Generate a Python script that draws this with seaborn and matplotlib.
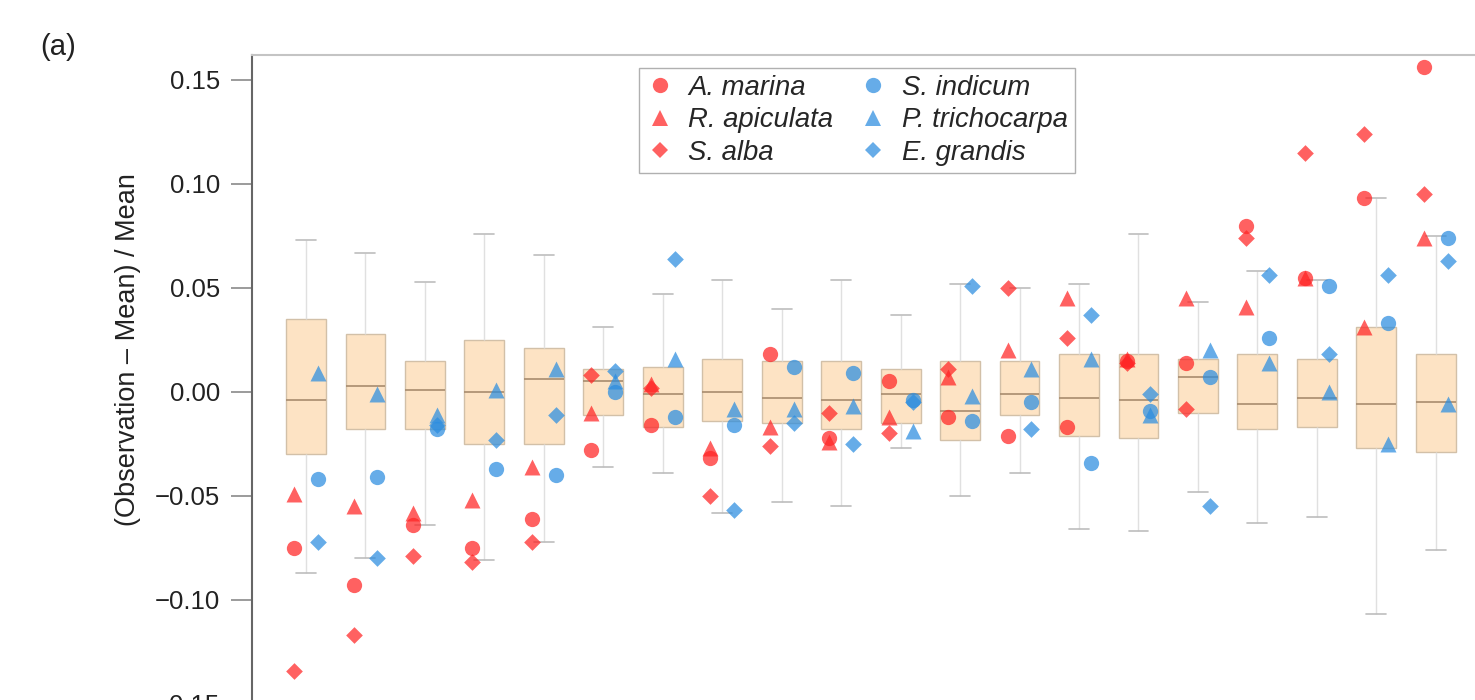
import numpy as np
import pandas as pd
import matplotlib
matplotlib.use("Agg")
import matplotlib.pyplot as plt
from matplotlib.lines import Line2D
import seaborn as sns

# Box summary per site (whisker low, Q1, median, Q3, whisker high)
groups = list(range(1, 21))
box_lo = [-0.087, -0.080, -0.064, -0.081, -0.072, -0.036, -0.039, -0.058, -0.053, -0.055,
          -0.027, -0.050, -0.039, -0.066, -0.067, -0.048, -0.063, -0.060, -0.107, -0.076]
box_q1 = [-0.030, -0.018, -0.018, -0.025, -0.025, -0.011, -0.017, -0.014, -0.015, -0.018,
          -0.015, -0.023, -0.011, -0.021, -0.022, -0.010, -0.018, -0.017, -0.027, -0.029]
box_med = [-0.004, 0.003, 0.001, 0.000, 0.006, 0.005, -0.001, 0.000, -0.003, -0.004,
           -0.001, -0.009, -0.001, -0.003, -0.004, 0.007, -0.006, -0.003, -0.006, -0.005]
box_q3 = [0.035, 0.028, 0.015, 0.025, 0.021, 0.011, 0.012, 0.016, 0.015, 0.015,
          0.011, 0.015, 0.015, 0.018, 0.018, 0.016, 0.018, 0.016, 0.031, 0.018]
box_hi = [0.073, 0.067, 0.053, 0.076, 0.066, 0.031, 0.047, 0.054, 0.040, 0.054,
          0.037, 0.052, 0.050, 0.052, 0.076, 0.043, 0.058, 0.054, 0.093, 0.075]

# Species deviations
a_marina = [-0.075, -0.093, -0.064, -0.075, -0.061, -0.028, -0.016, -0.032, 0.018, -0.022,
            0.005, -0.012, -0.021, -0.017, 0.015, 0.014, 0.080, 0.055, 0.093, 0.156]
r_apiculata = [-0.049, -0.055, -0.058, -0.052, -0.036, -0.010, 0.004, -0.027, -0.017, -0.024,
               -0.012, 0.007, 0.020, 0.045, 0.016, 0.045, 0.041, 0.055, 0.031, 0.074]
s_alba = [-0.134, -0.117, -0.079, -0.082, -0.072, 0.008, 0.002, -0.050, -0.026, -0.010,
          -0.020, 0.011, 0.050, 0.026, 0.014, -0.008, 0.074, 0.115, 0.124, 0.095]
s_indicum = [-0.042, -0.041, -0.018, -0.037, -0.040, 0.000, -0.012, -0.016, 0.012, 0.009,
             -0.004, -0.014, -0.005, -0.034, -0.009, 0.007, 0.026, 0.051, 0.033, 0.074]
p_trichocarpa = [0.009, -0.001, -0.011, 0.001, 0.011, 0.005, 0.016, -0.008, -0.008, -0.007,
                 -0.019, -0.002, 0.011, 0.016, -0.011, 0.020, 0.014, 0.000, -0.025, -0.006]
e_grandis = [-0.072, -0.080, -0.016, -0.023, -0.011, 0.010, 0.064, -0.057, -0.015, -0.025,
             -0.005, 0.051, -0.018, 0.037, -0.001, -0.055, 0.056, 0.018, 0.056, 0.063]

y_ticks = [-0.15, -0.10, -0.05, 0.00, 0.05, 0.10, 0.15]
y_tick_labels = ["\u22120.15", "\u22120.10", "\u22120.05", "0.00", "0.05", "0.10", "0.15"]

RED = "#ff2424"
BLUE = "#2b8de0"

sns.set_theme(style="white")
plt.rcParams["font.family"] = ["Liberation Sans", "DejaVu Sans"]

# long table for the boxes: five values per group reproduce the summary exactly
box_df = pd.DataFrame({
    "group": np.repeat(groups, 5),
    "val": np.column_stack([box_lo, box_q1, box_med, box_q3, box_hi]).ravel(),
})

fig = plt.figure(figsize=(14.75, 7), dpi=100)
ax = fig.add_axes([252 / 1475, -87 / 700, 1273 / 1475, 732 / 700])

sns.boxplot(data=box_df, x="group", y="val", whis=(0, 100), width=0.67,
            color="#fde3c4", fliersize=0, ax=ax,
            boxprops=dict(facecolor="#fde3c4", edgecolor="#d2c0a8", linewidth=1.0),
            whiskerprops=dict(color="#e0e0e0", linewidth=1.0),
            capprops=dict(color="#bdbdbd", linewidth=1.2),
            medianprops=dict(color="#a88c6e", linewidth=1.2))

shapes = [("o", a_marina, s_indicum, 11), ("^", r_apiculata, p_trichocarpa, 11.5),
          ("D", s_alba, e_grandis, 8.5)]
for marker, red_vals, blue_vals, size in shapes:
    pts = pd.DataFrame({
        "group": groups * 2,
        "val": red_vals + blue_vals,
        "side": ["red"] * len(groups) + ["blue"] * len(groups),
    })
    sns.stripplot(data=pts, x="group", y="val", hue="side", hue_order=["red", "blue"],
                  palette={"red": RED, "blue": BLUE}, dodge=True, jitter=False,
                  marker=marker, size=size, alpha=0.72, linewidth=0, legend=False, ax=ax)

ax.set_xlim(-0.908, 20.5)
ax.set_ylim(-0.19, 0.162)
ax.set_xticks([])
ax.set_xlabel("")
ax.set_yticks(y_ticks)
ax.set_yticklabels(y_tick_labels)
ax.tick_params(axis="y", left=True, length=15, width=1.2, color="#8a8a8a", pad=8,
               labelsize=18.5, labelcolor="#222222")
ax.set_ylabel("(Observation \u2013 Mean) / Mean", fontsize=19.5, color="#222222")
ax.yaxis.set_label_coords((141 - 252) / 1273, (787 - 350) / 732)

for side in ["right", "bottom"]:
    ax.spines[side].set_visible(False)
ax.spines["left"].set_color("#666666")
ax.spines["left"].set_linewidth(1.5)
ax.spines["top"].set_color("#c4c4c4")
ax.spines["top"].set_linewidth(1.5)

names = ["A. marina", "R. apiculata", "S. alba", "S. indicum", "P. trichocarpa", "E. grandis"]
colors = [RED, RED, RED, BLUE, BLUE, BLUE]
markers = ["o", "^", "D", "o", "^", "D"]
msizes = [11, 11.5, 8.5, 11, 11.5, 8.5]
handles = [Line2D([], [], linestyle="none", marker=m, color=c, markersize=s, alpha=0.72,
                  markeredgewidth=0)
           for m, c, s in zip(markers, colors, msizes)]
leg = fig.legend(handles, names, ncol=2, loc="upper left",
                 bbox_to_anchor=(639 / 1475, 1 - 68 / 700), bbox_transform=fig.transFigure,
                 borderaxespad=0, frameon=True, fancybox=False, framealpha=1,
                 prop={"style": "italic", "size": 19.8}, labelspacing=0.24,
                 handlelength=1.0, handletextpad=0.55, columnspacing=0.95,
                 borderpad=0.25)
leg.get_frame().set_edgecolor("#b0b0b0")
leg.get_frame().set_linewidth(1.0)

fig.text(40 / 1475, 1 - 47 / 700, "(a)", fontsize=21, ha="left", va="center", color="#222222")

fig.savefig("out.png", dpi=100)
